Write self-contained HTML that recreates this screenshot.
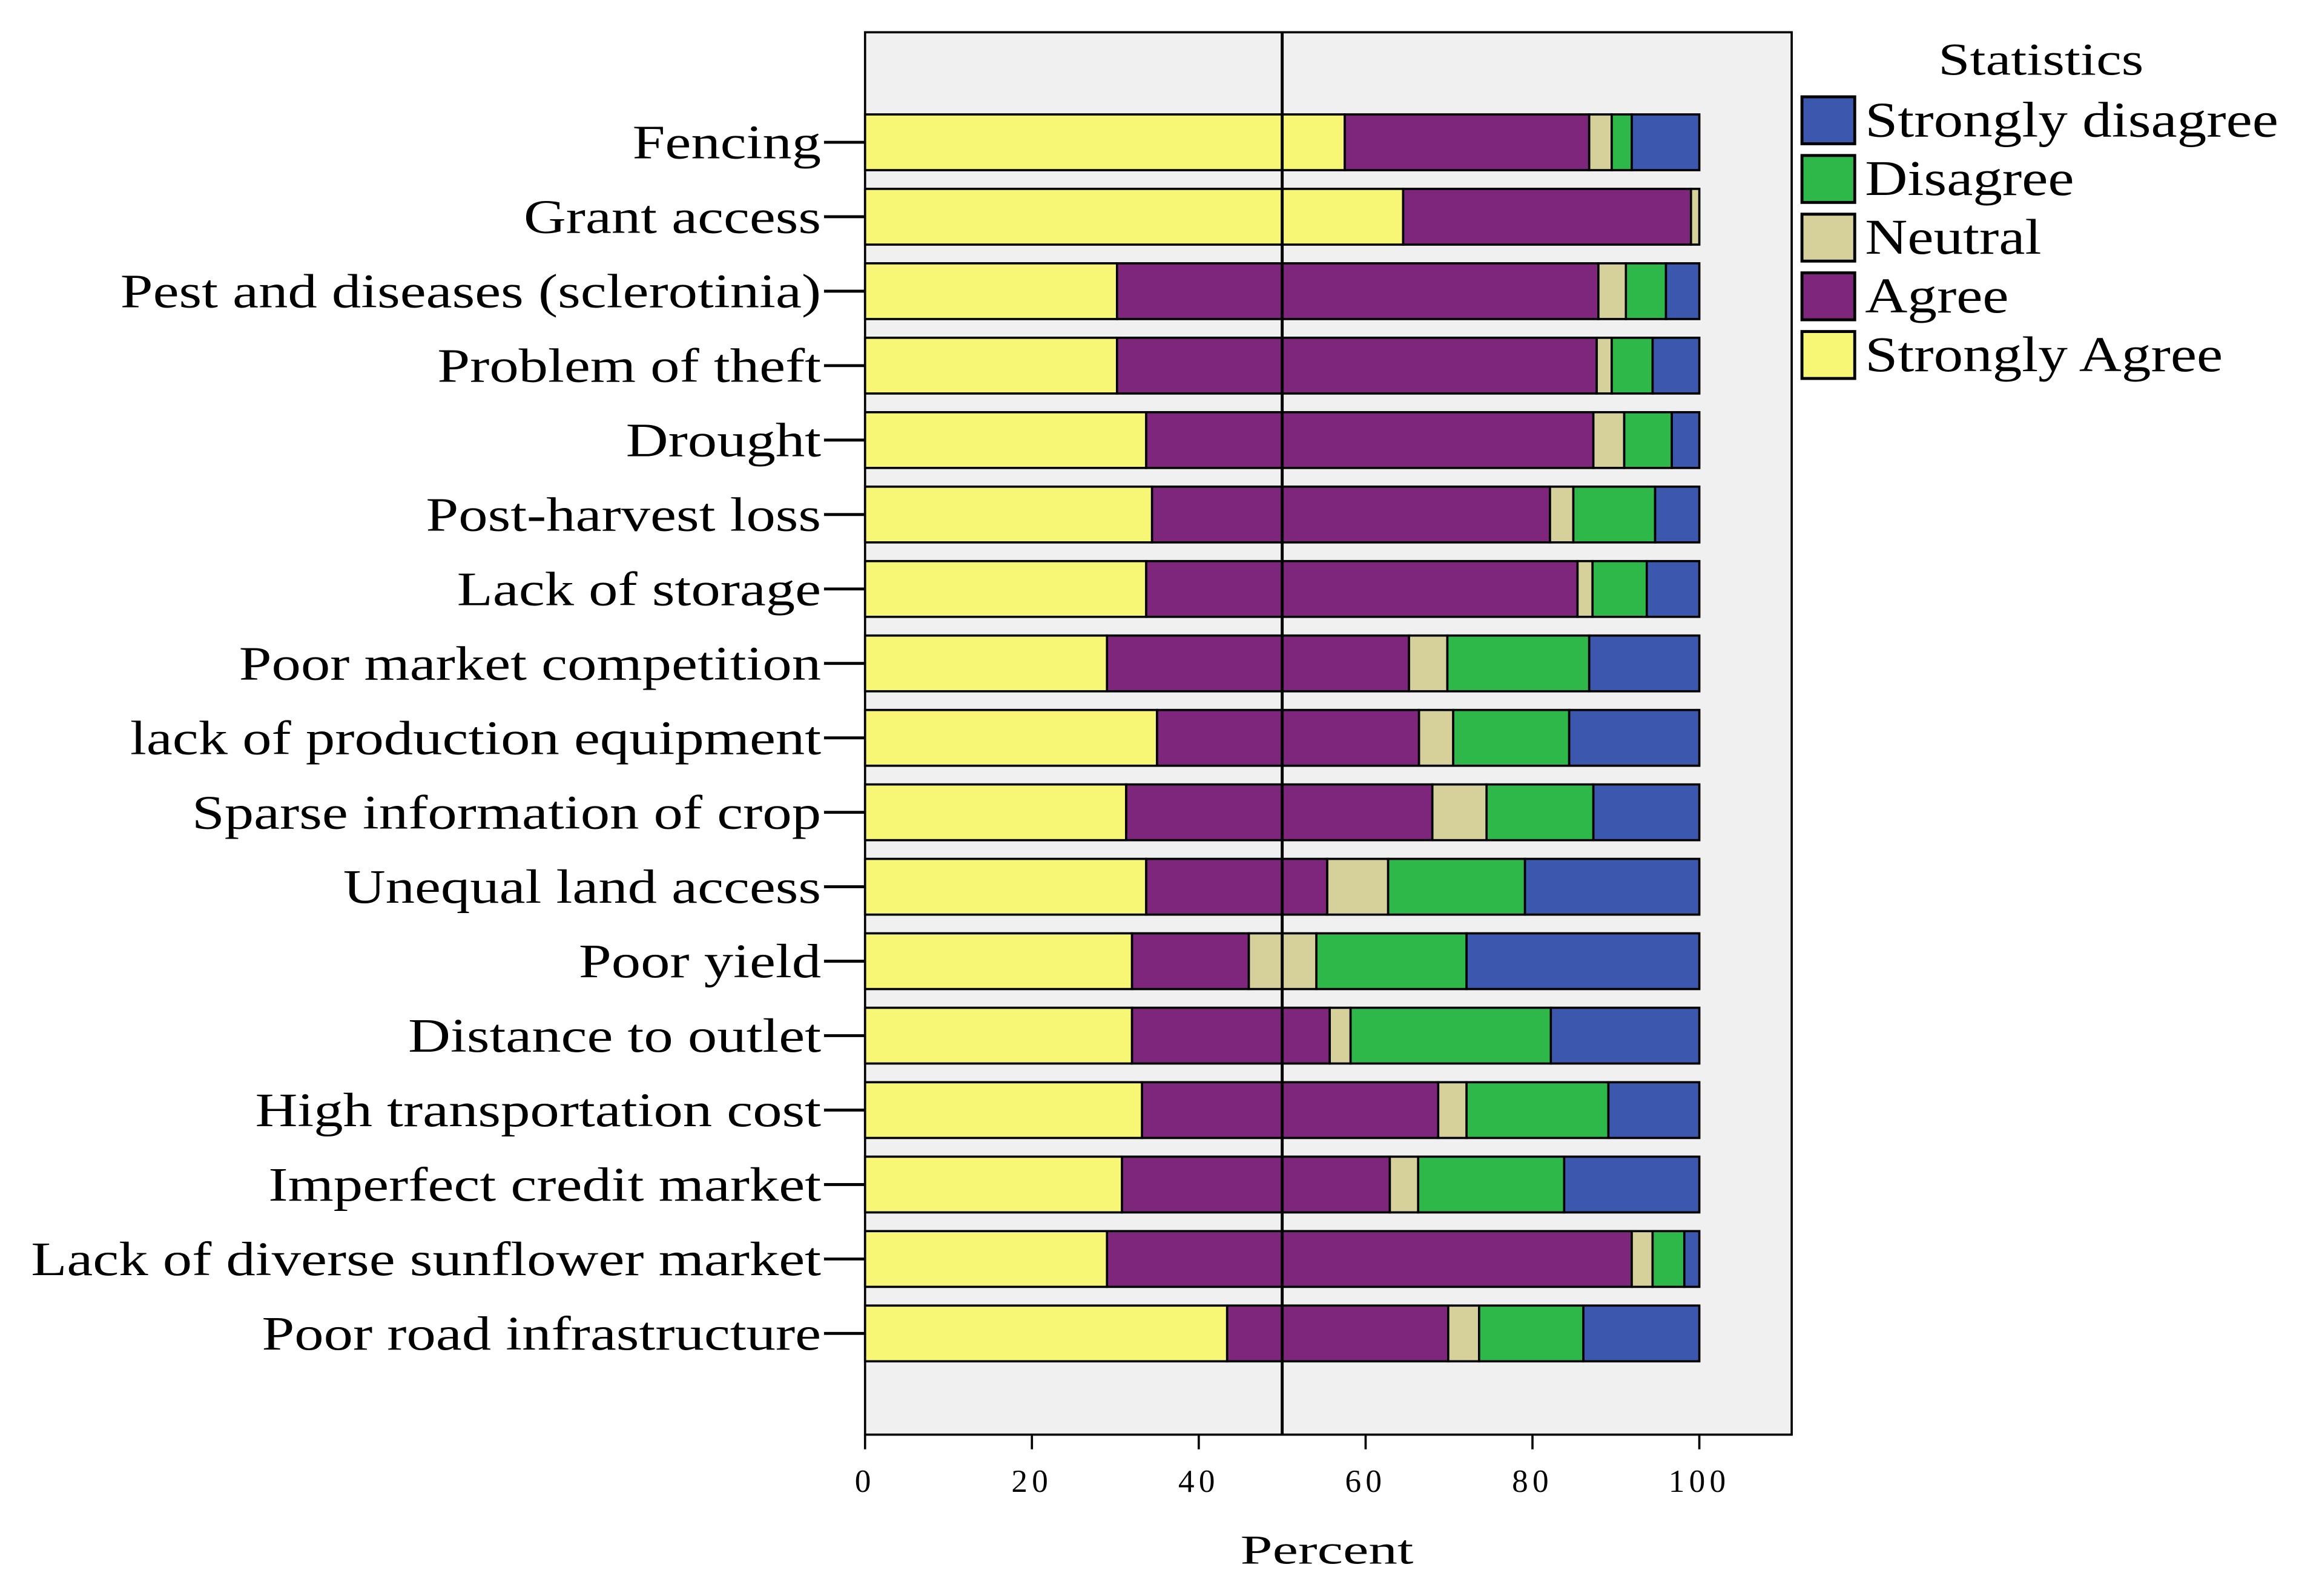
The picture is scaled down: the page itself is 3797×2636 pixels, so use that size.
<!DOCTYPE html>
<html><head><meta charset="utf-8"><style>
html,body{margin:0;padding:0;background:#fff;}
svg{display:block;}
text{font-family:"Liberation Serif",serif;fill:#000;}
</style></head><body>
<svg id="chart" width="3797" height="2636" viewBox="0 0 1568 1088" preserveAspectRatio="none" xmlns="http://www.w3.org/2000/svg">
<rect x="590" y="22" width="632" height="956" fill="#f0f0f0" stroke="#000" stroke-width="1.5"/>
<g id="bars"></g>
<line x1="874.5" y1="22" x2="874.5" y2="978" stroke="#000" stroke-width="2"/>
<g id="ylabels"></g>
<g id="xaxis"></g>
<text x="905" y="1066" font-size="28" text-anchor="middle" textLength="118" lengthAdjust="spacingAndGlyphs">Percent</text>
<g id="legend">
<text x="1392" y="51" font-size="31" text-anchor="middle" textLength="140" lengthAdjust="spacingAndGlyphs">Statistics</text>
</g>
</svg>
<script>
const categories = ["Fencing","Grant access","Pest and diseases (sclerotinia)","Problem of theft","Drought","Post-harvest loss","Lack of storage","Poor market competition","lack of production equipment","Sparse information of crop","Unequal land access","Poor yield","Distance to outlet","High transportation cost","Imperfect credit market","Lack of diverse sunflower market","Poor road infrastructure"];
const stronglyAgree = [57.5,64.5,30.2,30.2,33.7,34.4,33.7,29.0,35.0,31.3,33.7,32.0,32.0,33.2,30.8,29.0,43.4];
const agree = [29.3,34.5,57.7,57.5,53.6,47.7,51.7,36.2,31.4,36.7,21.7,14.0,23.7,35.5,32.1,62.9,26.5];
const neutral = [2.7,1.0,3.3,1.8,3.7,2.8,1.8,4.6,4.1,6.5,7.3,8.1,2.5,3.4,3.4,2.5,3.7];
const disagree = [2.4,0,4.8,4.9,5.7,9.8,6.5,17.0,13.9,12.8,16.4,18.0,24.0,17.0,17.5,3.8,12.5];
const stronglyDisagree = [8.1,0,4.0,5.6,3.3,5.3,6.3,13.2,15.6,12.7,20.9,27.9,17.8,10.9,16.2,1.8,13.9];
const xTicks = [0,20,40,60,80,100];
const seriesNames = ["Strongly Agree","Agree","Neutral","Disagree","Strongly disagree"];
const seriesColors = ["#f8f675","#7d267c","#d6d09a","#2fb84a","#3c57ae"];

const NS="http://www.w3.org/2000/svg";
const x = v => 590 + v*5.69;
const y = i => 97 + i*50.75;
const barH = 38;
function mk(tag, attrs, parent){const e=document.createElementNS(NS,tag);for(const k in attrs)e.setAttribute(k,attrs[k]);parent.appendChild(e);return e;}
function stretch(t,f){const w=t.getComputedTextLength();t.setAttribute('textLength',(w*f).toFixed(1));t.setAttribute('lengthAdjust','spacingAndGlyphs');}
const series=[stronglyAgree,agree,neutral,disagree,stronglyDisagree];
const bars=document.getElementById('bars');
categories.forEach((c,i)=>{
  let cum=0;
  series.forEach((s,j)=>{
    const v=s[i];
    if(v>0){
      const r=mk('rect',{x:x(cum),y:y(i)-barH/2,width:x(cum+v)-x(cum),height:barH,fill:seriesColors[j],stroke:'#000','stroke-width':1.5},bars);
      
      
    }
    cum+=v;
  });
});
const yl=document.getElementById('ylabels');
categories.forEach((c,i)=>{
  const t=mk('line',{x1:562,x2:590,y1:y(i),y2:y(i),stroke:'#000','stroke-width':2},yl);
  
  
  const l=mk('text',{x:560,y:y(i)+11,'font-size':33,'text-anchor':'end'},yl);
  l.textContent=c;
  
  
  stretch(l,1.21);
});
const xa=document.getElementById('xaxis');
xTicks.forEach(v=>{
  const t=mk('line',{x1:x(v),x2:x(v),y1:978,y2:988,stroke:'#000','stroke-width':1.5},xa);
  
  
  const l=mk('text',{x:x(v),y:1017,'font-size':22,'text-anchor':'middle','letter-spacing':'3'},xa);
  l.textContent=v;
  
  
});
const lg=document.getElementById('legend');
const order=[4,3,2,1,0];
order.forEach((j,k)=>{
  const sy=66+k*40;
  const r=mk('rect',{x:1229,y:sy,width:36,height:32,fill:seriesColors[j],stroke:'#000','stroke-width':2},lg);
  
  
  const t=mk('text',{x:1272,y:sy+27,'font-size':34},lg);
  t.textContent=seriesNames[j];
  
  
  stretch(t,1.18);
});
</script>
</body></html>
